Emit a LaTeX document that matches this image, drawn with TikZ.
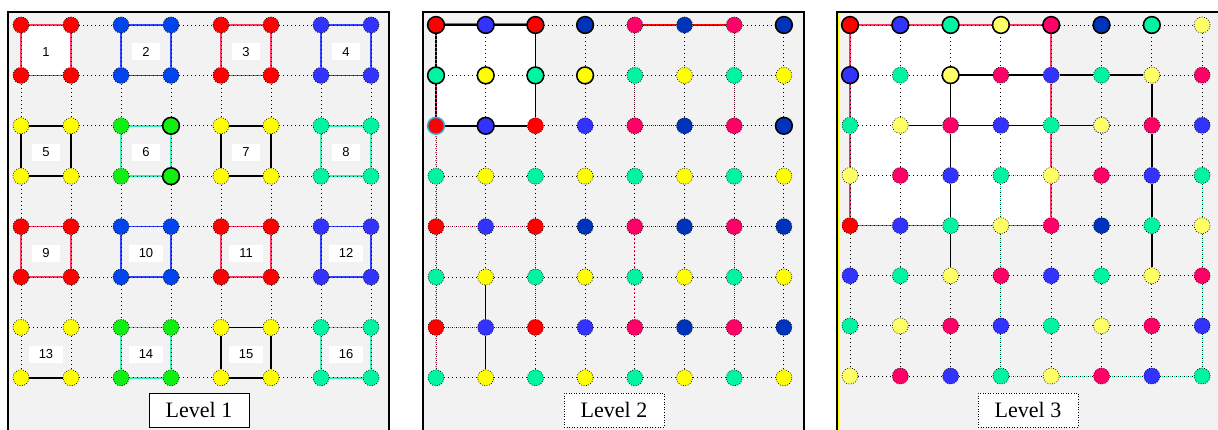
\documentclass[tikz,border=0pt]{standalone}
\usepackage{fontspec}
\setmainfont{Liberation Serif}
\newfontfamily\numfont{Liberation Sans}
\usetikzlibrary{calc}

\definecolor{panelgray}{HTML}{F2F2F2}
\definecolor{dotred}{HTML}{FF0000}
\definecolor{blueA}{HTML}{0044EE}
\definecolor{blueB}{HTML}{3333FF}
\definecolor{dblue}{HTML}{0033BB}
\definecolor{dotyellow}{HTML}{FFFF00}
\definecolor{pyellow}{HTML}{FFFF66}
\definecolor{dotgreen}{HTML}{11EE11}
\definecolor{spring}{HTML}{00F5A0}
\definecolor{pink}{HTML}{FF0066}
\definecolor{edgepink}{HTML}{FF3366}
\definecolor{edgeblue}{HTML}{3344FF}
\definecolor{edgespring}{HTML}{33EEBB}
\definecolor{darkpink}{HTML}{AA2244}
\definecolor{ringcyan}{HTML}{33AADD}

\tikzset{
  panel/.style={fill=panelgray, draw=black, line width=2.2pt},
  dot/.style={circle, minimum size=16pt, inner sep=0pt, fill=#1, draw=black,
    line width=0.7pt, dash pattern=on 0.8pt off 1.6pt},
  ring/.style={draw=black, line width=1.5pt},
  gridline/.style={line width=0.9pt, dash pattern=on 0.9pt off 3.1pt},
  sqedge/.style={draw=#1, line width=1.6pt},
  blackline/.style={draw=black, line width=1.4pt},
  colordots/.style={draw=#1, line width=1.1pt, dash pattern=on 1pt off 3pt, dash phase=2pt},
  numbox/.style={fill=white, inner xsep=10pt, inner ysep=0pt, minimum height=17pt,
    font=\numfont\fontsize{13}{15}\selectfont},
  levelbox/.style={fill=white, draw=black, line width=0.6pt, minimum width=100pt,
    minimum height=34pt, font=\fontsize{22}{26}\selectfont},
}

\begin{document}
\begin{tikzpicture}[x=1pt, y=-1pt]
\clip (0,0) rectangle (1218,429);

% level 1
\begin{scope}
  \def\dx{50} \def\dy{50.4}
  \filldraw[panel] (8,12) rectangle (389,445);
  \fill[white] (21,25) rectangle (21+\dx,25+\dy);
  \foreach \row [count=\r from 0] in {
      {dotred,dotred,blueA,blueA,dotred,dotred,blueB,blueB},
      {dotred,dotred,blueA,blueA,dotred,dotred,blueB,blueB},
      {dotyellow,dotyellow,dotgreen,dotgreen,dotyellow,dotyellow,spring,spring},
      {dotyellow,dotyellow,dotgreen,dotgreen,dotyellow,dotyellow,spring,spring},
      {dotred,dotred,blueA,blueA,dotred,dotred,blueB,blueB},
      {dotred,dotred,blueA,blueA,dotred,dotred,blueB,blueB},
      {dotyellow,dotyellow,dotgreen,dotgreen,dotyellow,dotyellow,spring,spring},
      {dotyellow,dotyellow,dotgreen,dotgreen,dotyellow,dotyellow,spring,spring}}
    \foreach \col [count=\c from 0] in \row
      \node[dot=\col] (L1-\c-\r) at (21+\c*\dx, 25+\r*\dy) {};
  \foreach \i/\j/\ecol [count=\k] in {0/0/edgepink, 1/0/edgeblue, 2/0/edgepink, 3/0/edgeblue,
      0/1/black, 1/1/edgespring, 2/1/black, 3/1/edgespring,
      0/2/edgepink, 1/2/edgeblue, 2/2/edgepink, 3/2/edgeblue,
      0/3/none, 1/3/edgespring, 2/3/black, 3/3/edgespring} {
    \pgfmathtruncatemacro\ca{2*\i} \pgfmathtruncatemacro\cb{2*\i+1}
    \pgfmathtruncatemacro\ra{2*\j} \pgfmathtruncatemacro\rb{2*\j+1}
    \draw[sqedge=\ecol] (L1-\ca-\ra) -- (L1-\cb-\ra) -- (L1-\cb-\rb) -- (L1-\ca-\rb) -- (L1-\ca-\ra);
    \node[numbox] (sq\k) at ($(L1-\ca-\ra)!.5!(L1-\cb-\rb) + (0,1.5)$) {\k};
  }
  \draw[sqedge=black] (L1-0-7) -- (L1-1-7);
  \node[levelbox] (lev1) at (199,410) {Level 1};
\end{scope}

% level 2
\begin{scope}[xshift=415pt]
  \def\dx{49.7} \def\dy{50.4}
  \filldraw[panel] (8,12) rectangle (389,445);
  \fill[white] (21,25) rectangle (21+2*\dx,25+2*\dy);
  \foreach \row [count=\r from 0] in {
      {dotred,blueB,dotred,dblue,pink,dblue,pink,dblue},
      {spring,dotyellow,spring,dotyellow,spring,dotyellow,spring,dotyellow},
      {dotred,blueB,dotred,blueB,pink,dblue,pink,dblue},
      {spring,dotyellow,spring,dotyellow,spring,dotyellow,spring,dotyellow},
      {dotred,blueB,dotred,dblue,pink,dblue,pink,dblue},
      {spring,dotyellow,spring,dotyellow,spring,dotyellow,spring,dotyellow},
      {dotred,blueB,dotred,blueB,pink,dblue,pink,dblue},
      {spring,dotyellow,spring,dotyellow,spring,dotyellow,spring,dotyellow}}
    \foreach \col [count=\c from 0] in \row
      \node[dot=\col] (L2-\c-\r) at (21+\c*\dx, 25+\r*\dy) {};
  \draw[sqedge=edgepink, line width=1.3pt] ([yshift=1.8pt]L2-0-0.east) -- ([yshift=1.8pt]L2-1-0.west)
    ([yshift=1.8pt]L2-1-0.east) -- ([yshift=1.8pt]L2-2-0.west);
  \draw[blackline] (L2-0-0) -- (L2-1-0) -- (L2-2-0) -- (L2-2-1) -- (L2-2-2)
    -- (L2-1-2) -- (L2-0-2) -- (L2-0-1) -- (L2-0-0);
  \draw[blackline] (L2-1-5) -- (L2-1-6) -- (L2-1-7);
  \draw[sqedge=dotred, line width=1.2pt] (L2-4-0) -- (L2-5-0) -- (L2-6-0);
  \draw[colordots=darkpink] (L2-4-0) -- (L2-4-1) -- (L2-4-2) (L2-6-0) -- (L2-6-1) -- (L2-6-2);
  \draw[colordots=dotred] (L2-4-2) -- (L2-5-2) -- (L2-6-2);
  \foreach \a [count=\b] in {0,...,6}
    \draw[colordots=edgepink] (L2-0-\a) -- (L2-0-\b);
  \draw[colordots=edgepink] (L2-0-4) -- (L2-1-4) -- (L2-2-4) -- (L2-2-5) -- (L2-2-6) -- (L2-1-6) -- (L2-0-6);
  \draw[colordots=edgepink] (L2-4-4) -- (L2-5-4) -- (L2-6-4) -- (L2-6-5) -- (L2-6-6)
    -- (L2-5-6) -- (L2-4-6) -- (L2-4-5) -- (L2-4-4);
  \node[levelbox, dotted] (lev2) at (199,410) {Level 2};
\end{scope}

% level 3
\begin{scope}[xshift=829pt]
  \def\dx{50.3} \def\dy{50.15}
  \filldraw[panel] (8,12) rectangle (398,445);
  \draw[dotyellow, line width=1.2pt] (9.4,13) -- (9.4,445);
  \fill[white] (21,25) rectangle (21+4*\dx,25+4*\dy);
  \foreach \row [count=\r from 0] in {
      {dotred,blueB,spring,pyellow,pink,dblue,spring,pyellow},
      {blueB,spring,pyellow,pink,blueB,spring,pyellow,pink},
      {spring,pyellow,pink,blueB,spring,pyellow,pink,blueB},
      {pyellow,pink,blueB,spring,pyellow,pink,blueB,spring},
      {dotred,blueB,spring,pyellow,pink,dblue,spring,pyellow},
      {blueB,spring,pyellow,pink,blueB,spring,pyellow,pink},
      {spring,pyellow,pink,blueB,spring,pyellow,pink,blueB},
      {pyellow,pink,blueB,spring,pyellow,pink,blueB,spring}}
    \foreach \col [count=\c from 0] in \row
      \node[dot=\col] (L3-\c-\r) at (21+\c*\dx, 25+\r*\dy) {};
  \foreach \a [count=\b] in {0,...,3}
    \draw[sqedge=edgepink] (L3-\a-0) -- (L3-\b-0) (L3-\a-4) -- (L3-\b-4)
      (L3-0-\a) -- (L3-0-\b) (L3-4-\a) -- (L3-4-\b);
  \foreach \a [count=\b from 3] in {2,...,5}
    \draw[blackline] (L3-\a-1) -- (L3-\b-1);
  \foreach \a [count=\b from 2] in {1,...,4}
    \draw[blackline] (L3-\a-2) -- (L3-\b-2) (L3-2-\a) -- (L3-2-\b) (L3-6-\a) -- (L3-6-\b);
  \foreach \a [count=\b from 4] in {3,...,6}
    \draw[colordots=spring] (L3-\a-3) -- (L3-\b-3) (L3-\a-7) -- (L3-\b-7)
      (L3-3-\a) -- (L3-3-\b) (L3-7-\a) -- (L3-7-\b);
  \node[levelbox, dotted] (lev3) at (199,410) {Level 3};
\end{scope}

% dotted grid over every level
\foreach \p in {1,2,3}
  \foreach \r in {0,...,7}
    \foreach \c [count=\d] in {0,...,6} {
      \draw[gridline] (L\p-\c-\r) -- (L\p-\d-\r);
      \draw[gridline] (L\p-\r-\c) -- (L\p-\r-\d);
    }

% marked dots
\foreach \n in {L1-3-2, L1-3-3, L2-0-0, L2-1-0, L2-2-0, L2-3-0, L2-7-0, L2-0-1, L2-1-1,
    L2-2-1, L2-3-1, L2-1-2, L2-7-2, L3-0-0, L3-1-0, L3-2-0, L3-3-0, L3-4-0, L3-5-0,
    L3-6-0, L3-0-1, L3-2-1}
  \draw[ring] (\n.center) circle (8.4pt);
\draw[ring, draw=ringcyan] (L2-0-2.center) circle (8.4pt);
\draw[blueB, line width=0.8pt, dash pattern=on 0.8pt off 1.6pt] (L3-5-2.center) circle (8pt);
\end{tikzpicture}
\end{document}
